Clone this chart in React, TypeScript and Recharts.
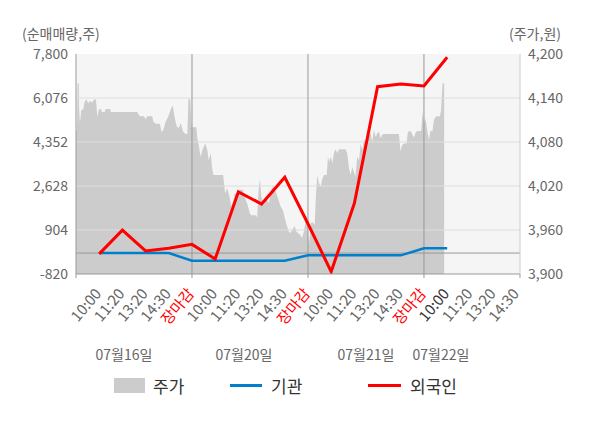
import React from 'react';
import { ComposedChart, Area, Line, XAxis, YAxis, CartesianGrid, ReferenceLine } from 'recharts';

// 시간축: 눈금 한 칸 = 10 단위 (10:00, 11:20, 13:20, 14:30, 장마감 ...)
const timeTicks = [10, 20, 30, 40, 50, 60, 70, 80, 90, 100, 110, 120, 130, 140, 150, 160, 170, 180, 190];
const timeLabels = [
  '10:00', '11:20', '13:20', '14:30', '장마감',
  '10:00', '11:20', '13:20', '14:30', '장마감',
  '10:00', '11:20', '13:20', '14:30', '장마감',
  '10:00', '11:20', '13:20', '14:30',
];
const timeDomain = [0, 191.4];
const dayCloseTimes = [50, 100, 150];
const currentTime = 160;
const dateLabels = ['07월16일', '07월20일', '07월21일', '07월22일'];

// 주가 (원)
const priceTimes = [
  0, 0.4, 0.7, 1.2, 1.3, 1.7, 2.3, 3.1, 3.7, 4.6, 5.2, 6.0, 7.0, 7.8, 8.6, 9.2, 9.9, 10.6, 11.3, 12.4,
  12.8, 14.7, 15.0, 26.4, 26.7, 27.6, 29.3, 30.0, 30.7, 32.9, 33.3, 34.4, 36.2, 36.8, 37.6, 38.7, 39.7, 40.8, 41.7, 42.5,
  43.4, 44.4, 45.1, 46.2, 47.3, 48.0, 48.5, 49.3, 49.8,
  51.9, 52.3, 52.9, 53.7, 54.7, 55.7, 56.6, 57.2, 58.1, 58.6, 59.2, 63.4, 63.8, 64.3, 65.2, 66.2, 66.9, 67.7, 68.4, 69.8,
  70.6, 72.0, 72.7, 73.8, 74.9, 75.6, 77.7, 78.1, 78.7, 79.3, 79.9, 81.0, 82.0, 83.1, 84.2, 85.3, 86.3, 87.1, 88.2, 89.2,
  89.9, 90.6, 91.7, 92.5, 93.1, 94.3, 95.0, 95.7, 96.8, 97.4, 98.3, 99.3,
  99.7, 100.4, 101.2, 101.8, 102.9, 103.4, 104.0, 104.7, 105.5, 106.2, 106.9, 108.1, 108.6, 109.2, 109.8, 110.5, 111.2, 111.9, 112.6, 113.4,
  116.2, 116.9, 117.7, 118.4, 119.1, 119.8, 120.5, 121.2, 122.0, 122.7, 123.4, 124.1, 125.6, 126.3, 127.0, 127.7, 128.4, 129.2, 129.9, 130.6,
  131.3, 132.0, 132.7, 139.2, 139.9, 140.6, 141.4, 142.5, 143.1, 144.3, 144.9, 145.7, 146.4, 147.1, 148.8, 149.4, 150.0, 150.7, 151.4, 152.1,
  152.9, 153.6, 154.3, 155.0, 155.7, 156.9, 157.4, 158.0, 158.7,
];
const priceValues = [
  4095, 4095, 4160, 4160, 4128, 4106, 4124, 4124, 4135, 4138, 4133, 4136, 4134, 4138, 4138, 4114, 4125, 4125, 4121, 4121,
  4125, 4125, 4121, 4121, 4119, 4115, 4115, 4111, 4115, 4115, 4108, 4105, 4105, 4094, 4096, 4108, 4114, 4124, 4130, 4114,
  4101, 4099, 4106, 4094, 4091, 4091, 4140, 4137, 4100,
  4100, 4085, 4076, 4060, 4071, 4078, 4069, 4055, 4065, 4046, 4035, 4035, 4024, 4010, 4017, 4005, 3992, 3999, 4010, 4010,
  4015, 4015, 4005, 3996, 3983, 3980, 3980, 3976, 4015, 4030, 4005, 3994, 4005, 3996, 4015, 4021, 4010, 4003, 3992, 3987,
  3978, 3969, 3958, 3956, 3960, 3965, 3958, 3956, 3953, 3949, 3958, 3980,
  3969, 3940, 3969, 3971, 3967, 4005, 4035, 4024, 4019, 4030, 4035, 4035, 4060, 4053, 4060, 4051, 4065, 4070, 4065, 4070,
  4070, 4065, 4044, 4035, 4046, 4039, 4033, 4060, 4055, 4078, 4069, 4083, 4080, 4090, 4092, 4080, 4096, 4087, 4092, 4094,
  4085, 4090, 4091, 4091, 4067, 4076, 4078, 4078, 4094, 4095, 4091, 4086, 4093, 4095, 4095, 4121, 4106, 4112, 4096, 4083,
  4096, 4094, 4110, 4114, 4115, 4115, 4124, 4160, 4160,
];

// 순매매량 (주)
const flowTimes = [10, 20, 30, 40, 50, 60, 70, 80, 90, 100, 110, 120, 130, 140, 150, 160];
const foreignNet = [-30, 900, 85, 185, 340, -230, 2400, 1920, 2970, 1150, -730, 1950, 6520, 6620, 6550, 7670];
const institutionNet = [0, 0, 0, 0, -300, -300, -300, -300, -300, -90, -90, -90, -90, -90, 185, 185];

const volumeTicks = [-820, 904, 2628, 4352, 6076, 7800];
const priceTicks = [3900, 3960, 4020, 4080, 4140, 4200];

const rows: any[] = [];
priceTimes.forEach((t, i) => rows.push({ t, price: priceValues[i] }));
flowTimes.forEach((t, i) => rows.push({ t, foreign: foreignNet[i], inst: institutionNet[i] }));
rows.sort((a, b) => a.t - b.t);

// 눈금 표시: 라벨 + 장 구분 위치
const axisTicks = [timeDomain[0], ...timeTicks, timeDomain[1]];

const FONT = '"Noto Sans CJK KR", "Noto Sans", sans-serif';
const fmt = (v: number) => v.toLocaleString('en-US');

const TimeTick = ({ x, y, payload }: any) => {
  const v = payload.value;
  const i = timeTicks.indexOf(v);
  const label = i >= 0 ? timeLabels[i] : '';
  const mark = dayCloseTimes.includes(v) || i < 0;
  let fill = '#666';
  if (label === '장마감') fill = '#ff0000';
  else if (v === currentTime) fill = '#333';
  return (
    <g>
      {mark && <line x1={x} x2={x} y1={y - 8} y2={y - 4} stroke="#999" />}
      <g transform={`translate(${x + 3},${y + 12})`}>
        <text x={0} y={0} textAnchor="end" transform="rotate(-50)" fill={fill} fontSize={15}>
          {label}
        </text>
      </g>
    </g>
  );
};

// 날짜 라벨 가로 중심 (px)
const dateLabelCenters = [124, 244, 366, 441];

export default function App() {
  return (
    <div style={{ position: 'absolute', left: 0, top: 0, width: 600, height: 428, background: '#fff', fontFamily: FONT }}>
      <div style={{ position: 'absolute', left: 22, top: 23, fontSize: 14, color: '#666' }}>(순매매량,주)</div>
      <div style={{ position: 'absolute', left: 509, top: 23, fontSize: 14, color: '#666' }}>(주가,원)</div>

      <ComposedChart width={600} height={428} data={rows} margin={{ top: 54, right: 0, bottom: 0, left: 0 }}>
        <CartesianGrid horizontal={false} vertical={false} fill="#f5f5f5" />
        <XAxis
          dataKey="t"
          type="number"
          domain={timeDomain}
          ticks={axisTicks}
          interval={0}
          tick={<TimeTick />}
          tickLine={false}
          axisLine={{ stroke: '#999' }}
          height={154}
          allowDataOverflow
        />
        <YAxis
          yAxisId="vol"
          domain={[-820, 7800]}
          ticks={volumeTicks}
          tickFormatter={fmt}
          width={76}
          tickLine={false}
          axisLine={{ stroke: '#999' }}
          tick={{ fill: '#666', fontSize: 14 }}
          allowDataOverflow
        />
        <YAxis
          yAxisId="price"
          orientation="right"
          domain={[3900, 4200]}
          ticks={priceTicks}
          tickFormatter={fmt}
          width={80}
          tickLine={false}
          axisLine={{ stroke: '#ccc' }}
          tick={{ fill: '#666', fontSize: 14 }}
          allowDataOverflow
        />
        <Area
          yAxisId="price"
          dataKey="price"
          type="linear"
          fill="#cccccc"
          fillOpacity={1}
          stroke="none"
          connectNulls
          isAnimationActive={false}
        />
        {volumeTicks.slice(1, -1).map((v) => (
          <ReferenceLine key={v} yAxisId="vol" y={v} stroke="#dedede" />
        ))}
        <ReferenceLine yAxisId="vol" y={0} stroke="#999" />
        {dayCloseTimes.map((t) => (
          <ReferenceLine key={t} yAxisId="vol" x={t} stroke="#999" />
        ))}
        <Line
          yAxisId="vol"
          dataKey="inst"
          stroke="#0080cc"
          strokeWidth={2.5}
          dot={false}
          connectNulls
          isAnimationActive={false}
        />
        <Line
          yAxisId="vol"
          dataKey="foreign"
          stroke="#ff0000"
          strokeWidth={3}
          dot={false}
          connectNulls
          isAnimationActive={false}
        />
      </ComposedChart>

      {dateLabels.map((d, i) => (
        <div
          key={d}
          style={{
            position: 'absolute',
            left: dateLabelCenters[i] - 40,
            width: 80,
            top: 344,
            textAlign: 'center',
            fontSize: 14,
            color: '#666',
          }}
        >
          {d}
        </div>
      ))}

      {/* legend */}
      <div style={{ position: 'absolute', left: 114, top: 378, width: 31, height: 15, background: '#cccccc' }} />
      <div style={{ position: 'absolute', left: 153, top: 373, fontSize: 17, color: '#333' }}>주가</div>
      <div style={{ position: 'absolute', left: 230, top: 384, width: 32, height: 3, background: '#0080cc' }} />
      <div style={{ position: 'absolute', left: 271, top: 373, fontSize: 17, color: '#333' }}>기관</div>
      <div style={{ position: 'absolute', left: 368, top: 384, width: 33, height: 3, background: '#ff0000' }} />
      <div style={{ position: 'absolute', left: 410, top: 373, fontSize: 17, color: '#333' }}>외국인</div>
    </div>
  );
}
